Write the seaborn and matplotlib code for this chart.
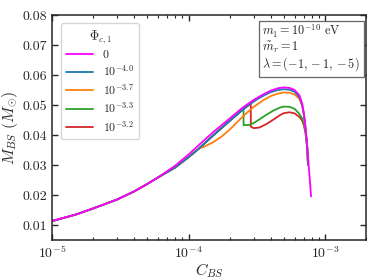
import numpy as np
import pandas as pd
import matplotlib
matplotlib.use('Agg')
import matplotlib.pyplot as plt
import seaborn as sns

# values
c_shared = [1e-5, 1.5e-5, 2e-5, 3e-5, 4e-5, 5e-5, 6e-5]
m_shared = [0.0113, 0.0135, 0.0155, 0.0185, 0.0212, 0.0237, 0.0259]

c_zero = c_shared + [8e-5, 1e-4, 1.2e-4, 1.5e-4, 2e-4, 2.5e-4, 3e-4, 3.5e-4, 4e-4, 4.5e-4,
                     5e-4, 5.5e-4, 6e-4, 6.5e-4, 6.8e-4, 7e-4, 7.2e-4, 7.4e-4, 7.6e-4, 7.8e-4, 7.9e-4]
m_zero = m_shared + [0.0298, 0.0335, 0.0368, 0.0408, 0.0455, 0.0492, 0.0517, 0.0535, 0.0548, 0.0556,
                     0.0559, 0.0557, 0.0550, 0.0532, 0.0505, 0.0472, 0.0425, 0.0365, 0.0295, 0.0230, 0.0195]

c_blue_pre = c_shared + [8e-5, 1e-4, 1.2e-4]
m_blue_pre = m_shared + [0.0292, 0.0326, 0.0356]

c_m40 = c_blue_pre + [1.5e-4, 2e-4, 2.5e-4, 2.86e-4, 3.2e-4, 3.6e-4, 4e-4, 4.5e-4, 5e-4, 5.5e-4,
                      6e-4, 6.5e-4, 6.8e-4, 7e-4, 7.2e-4, 7.4e-4, 7.5e-4]
m_m40 = m_blue_pre + [0.0397, 0.0447, 0.0485, 0.0505, 0.0520, 0.0533, 0.0543, 0.0550, 0.0553, 0.0551,
                      0.0544, 0.0526, 0.0500, 0.0468, 0.0420, 0.0360, 0.0300]

c_m37 = c_blue_pre + [1.3e-4, 1.5e-4, 1.75e-4, 2e-4, 2.5e-4, 3e-4, 3.5e-4, 4e-4, 4.5e-4, 5e-4,
                      5.5e-4, 6e-4, 6.5e-4, 6.8e-4, 7e-4, 7.2e-4, 7.4e-4, 7.5e-4]
m_m37 = m_blue_pre + [0.0361, 0.0375, 0.0395, 0.0418, 0.0462, 0.0494, 0.0515, 0.0530, 0.0538, 0.0542,
                      0.0541, 0.0535, 0.0520, 0.0497, 0.0466, 0.0420, 0.0360, 0.0300]

c_m33 = c_blue_pre + [1.5e-4, 2e-4, 2.53e-4, 2.53e-4, 2.8e-4, 3e-4, 3.3e-4, 3.7e-4, 4.2e-4, 4.7e-4,
                      5e-4, 5.5e-4, 6e-4, 6.5e-4, 6.8e-4, 7e-4, 7.2e-4, 7.4e-4, 7.5e-4]
m_m33 = m_blue_pre + [0.0397, 0.0447, 0.0487, 0.0433, 0.0434, 0.0440, 0.0452, 0.0467, 0.0482, 0.0492,
                      0.0495, 0.0494, 0.0487, 0.0470, 0.0455, 0.0440, 0.0410, 0.0360, 0.0300]

c_m32 = c_blue_pre + [1.5e-4, 2e-4, 2.5e-4, 2.86e-4, 2.86e-4, 3e-4, 3.3e-4, 3.7e-4, 4.2e-4, 4.7e-4,
                      5e-4, 5.5e-4, 6e-4, 6.5e-4, 6.8e-4, 7e-4, 7.2e-4, 7.4e-4, 7.5e-4]
m_m32 = m_blue_pre + [0.0397, 0.0447, 0.0485, 0.0505, 0.0428, 0.0423, 0.0425, 0.0436, 0.0452, 0.0467,
                      0.0473, 0.0476, 0.0472, 0.0460, 0.0448, 0.0432, 0.0405, 0.0358, 0.0300]

labels = ['0', r'$10^{-4.0}$', r'$10^{-3.7}$', r'$10^{-3.3}$', r'$10^{-3.2}$']
colours = ['#ff00ff', '#1f77b4', '#ff7f0e', '#2ca02c', '#d62728']
curves = [(c_zero, m_zero), (c_m40, m_m40), (c_m37, m_m37), (c_m33, m_m33), (c_m32, m_m32)]

sns.set_style('ticks')
plt.rcParams['font.family'] = 'serif'
plt.rcParams['font.serif'] = ['cmr10', 'DejaVu Serif']
plt.rcParams['mathtext.fontset'] = 'cm'
plt.rcParams['axes.formatter.use_mathtext'] = True
plt.rcParams['axes.unicode_minus'] = False

fig = plt.figure(figsize=(3.74, 2.80), dpi=100)
ax = fig.add_axes([0.139, 0.143, 0.840, 0.803])

# draw the coloured branches first so magenta sits on top
for i in reversed(range(len(curves))):
        df = pd.DataFrame({'C': curves[i][0], 'M': curves[i][1]})
        sns.lineplot(data=df, x='C', y='M', sort=False, estimator=None, color=colours[i],
                     label=labels[i], lw=1.3, ax=ax)

ax.set_xscale('log')
ax.set_xlim(1e-5, 2e-3)
ax.set_ylim(0.005, 0.08)
ax.set_yticks([0.01, 0.02, 0.03, 0.04, 0.05, 0.06, 0.07, 0.08])
ax.set_yticklabels(['0.01', '0.02', '0.03', '0.04', '0.05', '0.06', '0.07', '0.08'])
ax.set_xlabel(r'$C_{BS}$', fontsize=11.5, labelpad=0)
ax.set_ylabel(r'$M_{BS}\ (M_{\odot})$', fontsize=11.5, labelpad=2)
ax.tick_params(which='both', direction='in', top=True, right=True, labelsize=10)
ax.tick_params(which='major', length=4, width=1)
ax.tick_params(which='minor', length=2, width=0.8)
for s in ax.spines.values():
        s.set_linewidth(1.1)

handles, labs = ax.get_legend_handles_labels()
handles = handles[::-1]
labs = labs[::-1]
leg = ax.legend(handles, labs, title=r'$\Phi_{c,1}$', loc='upper left', fontsize=8.5,
                title_fontsize=9, handlelength=2.3, labelspacing=0.3, borderpad=0.45,
                bbox_to_anchor=(0.01, 0.99))

ax.text(0.67, 0.965, '$m_1 = 10^{-10}$ eV\n' + r'$\tilde{m}_r = 1$' + '\n' + r'$\lambda = (-1, -1, -5)$',
        transform=ax.transAxes, ha='left', va='top', fontsize=8.8, linespacing=1.0,
        multialignment='left',
        bbox=dict(boxstyle='square,pad=0.3', facecolor='white', edgecolor='0.4', lw=0.9))

fig.savefig('out.png', dpi=100)
